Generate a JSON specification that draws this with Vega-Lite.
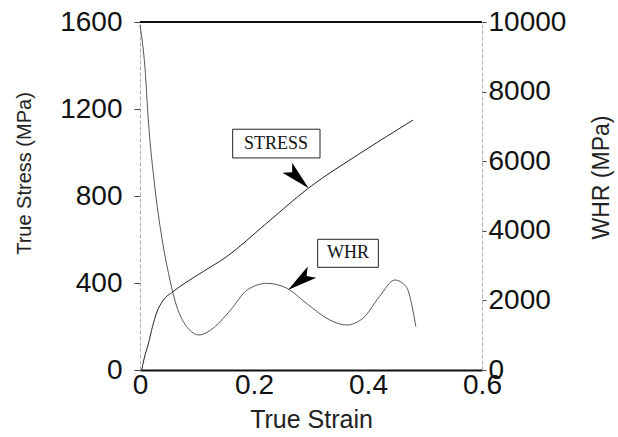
{
  "$schema": "https://vega.github.io/schema/vega-lite/v6.json",
  "autosize": {"type": "none"},
  "padding": {"left": 140, "top": 22, "right": 136, "bottom": 67},
  "width": 342,
  "height": 348,
  "background": "white",
  "config": {
    "view": {"stroke": null},
    "font": "Liberation Sans",
    "axis": {"grid": false, "labelFont": "Liberation Sans", "titleFont": "Liberation Sans", "labelColor": "#111", "titleColor": "#222", "titleFontWeight": "normal"}
  },
  "datasets": {
    "stress": [
      {"strain": 0.003, "stress": 0},
      {"strain": 0.007, "stress": 50},
      {"strain": 0.0146, "stress": 120},
      {"strain": 0.022, "stress": 200},
      {"strain": 0.029, "stress": 262},
      {"strain": 0.04, "stress": 318},
      {"strain": 0.058, "stress": 360},
      {"strain": 0.1, "stress": 435},
      {"strain": 0.152, "stress": 521},
      {"strain": 0.22, "stress": 670},
      {"strain": 0.295, "stress": 835},
      {"strain": 0.386, "stress": 996},
      {"strain": 0.479, "stress": 1149}
    ],
    "whr": [
      {"strain": 0.0, "whr": 9914},
      {"strain": 0.009, "whr": 8621},
      {"strain": 0.0146, "whr": 7184},
      {"strain": 0.026, "whr": 5267},
      {"strain": 0.038, "whr": 3830},
      {"strain": 0.05, "whr": 2779},
      {"strain": 0.061, "whr": 2011},
      {"strain": 0.082, "whr": 1244},
      {"strain": 0.104, "whr": 1006},
      {"strain": 0.124, "whr": 1150},
      {"strain": 0.159, "whr": 1724},
      {"strain": 0.188, "whr": 2300},
      {"strain": 0.223, "whr": 2490},
      {"strain": 0.258, "whr": 2347},
      {"strain": 0.292, "whr": 1916},
      {"strain": 0.333, "whr": 1437},
      {"strain": 0.362, "whr": 1293},
      {"strain": 0.391, "whr": 1485},
      {"strain": 0.42, "whr": 2107},
      {"strain": 0.447, "whr": 2586},
      {"strain": 0.467, "whr": 2394},
      {"strain": 0.484, "whr": 1244}
    ],
    "boxes": [
      {"label": "STRESS", "x1": 0.1626, "x2": 0.3158, "y1": 975, "y2": 1107, "tx": 0.2386, "ty": 1039},
      {"label": "WHR", "x1": 0.3117, "x2": 0.4181, "y1": 472, "y2": 601, "tx": 0.3649, "ty": 536}
    ],
    "arrowStress": [{"strain": 0.2772, "stress": 883}],
    "arrowWhr": [{"strain": 0.2807, "stress": 409}]
  },
  "layer": [
    {
      "layer": [
        {
          "data": {"name": "stress"},
          "mark": {"type": "line", "color": "#222", "strokeWidth": 1, "interpolate": "monotone"},
          "encoding": {
            "x": {"field": "strain", "type": "quantitative", "scale": {"domain": [0, 0.6]},
              "axis": {"title": "True Strain", "values": [0, 0.2, 0.4, 0.6], "format": "~g", "labelFontSize": 28, "titleFontSize": 25, "tickSize": 0, "labelPadding": 1, "titlePadding": 8, "domainColor": "#111", "domainWidth": 2, "labelFlush": false}},
            "y": {"field": "stress", "type": "quantitative", "scale": {"domain": [0, 1600]},
              "axis": {"title": "True Stress (MPa)", "values": [0, 400, 800, 1200, 1600], "format": "d", "labelFontSize": 28, "titleFontSize": 20, "titleY": 151, "tickSize": 6, "tickColor": "#444", "domainColor": "#999", "domainWidth": 0.8, "domainDash": [4, 2], "labelPadding": 12, "titlePadding": 25}}
          }
        },
        {
          "data": {"values": [{}]},
          "mark": {"type": "rule", "color": "#111", "strokeWidth": 2},
          "encoding": {"y": {"datum": 1600}}
        },
        {
          "data": {"name": "boxes"},
          "mark": {"type": "rect", "fill": "white", "stroke": "#222", "strokeWidth": 1},
          "encoding": {
            "x": {"field": "x1", "type": "quantitative"},
            "x2": {"field": "x2"},
            "y": {"field": "y1", "type": "quantitative"},
            "y2": {"field": "y2"}
          }
        },
        {
          "data": {"name": "boxes"},
          "mark": {"type": "text", "font": "Liberation Serif", "fontSize": 18, "color": "#111"},
          "encoding": {
            "x": {"field": "tx", "type": "quantitative"},
            "y": {"field": "ty", "type": "quantitative"},
            "text": {"field": "label"}
          }
        },
        {
          "data": {"name": "arrowStress"},
          "mark": {"type": "point", "shape": "M0,-1L0.47,1L0,0.55L-0.47,1Z", "filled": true, "color": "#000", "opacity": 1, "size": 880, "angle": 134},
          "encoding": {
            "x": {"field": "strain", "type": "quantitative"},
            "y": {"field": "stress", "type": "quantitative"}
          }
        },
        {
          "data": {"name": "arrowWhr"},
          "mark": {"type": "point", "shape": "M0,-1L0.47,1L0,0.55L-0.47,1Z", "filled": true, "color": "#000", "opacity": 1, "size": 900, "angle": 233},
          "encoding": {
            "x": {"field": "strain", "type": "quantitative"},
            "y": {"field": "stress", "type": "quantitative"}
          }
        }
      ]
    },
    {
      "data": {"name": "whr"},
      "mark": {"type": "line", "color": "#444", "strokeWidth": 0.9, "interpolate": "monotone"},
      "encoding": {
        "x": {"field": "strain", "type": "quantitative"},
        "y": {"field": "whr", "type": "quantitative", "scale": {"domain": [0, 10000]},
          "axis": {"orient": "right", "title": "WHR (MPa)", "values": [0, 2000, 4000, 6000, 8000, 10000], "format": "d", "labelFontSize": 28, "titleFontSize": 23, "titleAngle": 270, "titleY": 155, "tickSize": 4, "tickColor": "#444", "domainColor": "#999", "domainWidth": 0.8, "domainDash": [4, 2], "labelPadding": 2, "titlePadding": 48}}
      }
    }
  ],
  "resolve": {"scale": {"y": "independent"}}
}
